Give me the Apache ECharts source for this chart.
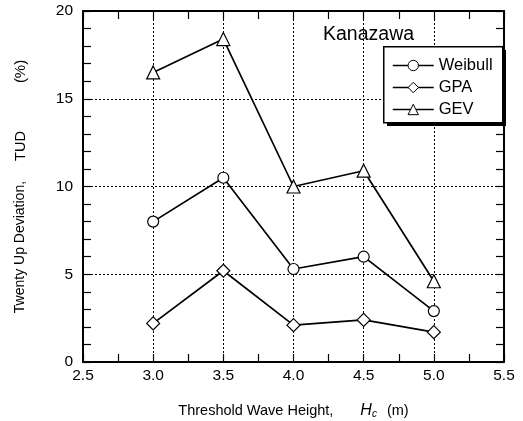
<!DOCTYPE html>
<html><head><meta charset="utf-8">
<script src="https://cdn.jsdelivr.net/npm/echarts@6/dist/echarts.min.js"></script>
<style>html,body{margin:0;padding:0;background:#fff}#c{width:523px;height:421px}</style>
</head><body><div id="c"></div>
<script>
const xValues = [3.0, 3.5, 4.0, 4.5, 5.0];
const weibull = [8.0, 10.5, 5.3, 6.0, 2.9];
const gpa = [2.2, 5.2, 2.1, 2.4, 1.7];
const gev = [16.5, 18.4, 10.0, 10.9, 4.6];
const seriesNames = ['Weibull', 'GPA', 'GEV'];
const stationName = 'Kanazawa';

const font = '"Liberation Sans", Arial, sans-serif';
const chart = echarts.init(document.getElementById('c'), null, {renderer: 'canvas'});
const pair = arr => xValues.map((x, i) => [x, arr[i]]);
const tickStyle = {show: true, inside: true, length: 8, lineStyle: {color: '#000', width: 1.2}};
const minorStyle = n => ({show: true, splitNumber: n, length: 8, lineStyle: {color: '#000', width: 1.2}});
const grid = {type: [2, 2], color: '#000', width: 1};
const lineSeries = (name, data, symbol, size) => ({
  name, type: 'line', data: pair(data), symbol, symbolSize: size,
  lineStyle: {color: '#000', width: 1.7},
  itemStyle: {color: '#fff', borderColor: '#000', borderWidth: 1.2},
  showAllSymbol: true, z: 5
});
chart.setOption({
  animation: false,
  textStyle: {fontFamily: font},
  grid: {left: 83, right: 19, top: 11, bottom: 59, outerBoundsMode: 'none', containLabel: false},
  title: {text: stationName, left: 318, top: 20, textStyle: {fontFamily: font, fontSize: 19.5, fontWeight: 'normal', color: '#000'}},
  graphic: [{
    type: 'rect', left: 387, top: 50, z: 10,
    shape: {width: 119, height: 76},
    style: {fill: '#000', stroke: null}
  }, {
    type: 'rect', left: 383, top: 46, z: 11,
    shape: {width: 119, height: 76},
    style: {fill: '#fff', stroke: '#000', lineWidth: 1.5}
  }],
  legend: {
    orient: 'vertical', left: 383, top: 46, z: 20,
    data: seriesNames,
    padding: [11, 6, 11, 9], itemGap: 5, itemWidth: 41, itemHeight: 13,
    itemStyle: {borderWidth: 1},
    lineStyle: {width: 1.5},
    textStyle: {fontFamily: font, fontSize: 16.5, color: '#000'}
  },
  xAxis: [{
    type: 'value', min: 2.5, max: 5.5, interval: 0.5,
    axisLine: {show: true, onZero: false, lineStyle: {color: '#000', width: 2}},
    axisTick: tickStyle, minorTick: minorStyle(2),
    splitLine: {show: true, lineStyle: grid},
    axisLabel: {color: '#000', fontSize: 15.5, fontFamily: font, margin: 6, formatter: v => v.toFixed(1)},
    name: '{a|Threshold Wave Height,}{h|H}{c|c}{m|(m)}',
    nameLocation: 'middle', nameGap: 40,
    nameTextStyle: {rich: {
      a: {fontSize: 14.5, fontFamily: font, color: '#000'},
      h: {fontSize: 16, fontFamily: font, fontStyle: 'italic', color: '#000', padding: [0, 0, 0, 27]},
      c: {fontSize: 10, fontFamily: font, fontStyle: 'italic', color: '#000', verticalAlign: 'bottom', padding: [7, 0, 0, 0]},
      m: {fontSize: 14.5, fontFamily: font, color: '#000', padding: [0, 0, 0, 10]}
    }}
  }, {
    type: 'value', min: 2.5, max: 5.5, interval: 0.5, position: 'top',
    axisLine: {show: true, onZero: false, lineStyle: {color: '#000', width: 2}},
    axisTick: tickStyle, minorTick: minorStyle(2),
    splitLine: {show: false}, axisLabel: {show: false}
  }],
  yAxis: [{
    type: 'value', min: 0, max: 20, interval: 5,
    axisLine: {show: true, onZero: false, lineStyle: {color: '#000', width: 2}},
    axisTick: tickStyle, minorTick: minorStyle(5),
    splitLine: {show: true, lineStyle: grid},
    axisLabel: {color: '#000', fontSize: 15.5, fontFamily: font, margin: 10},
    name: '{a|Twenty Up Deviation,}{b|TUD}{c|(%)}',
    nameLocation: 'middle', nameGap: 55,
    nameTextStyle: {rich: {
      a: {fontSize: 14, fontFamily: font, color: '#000'},
      b: {fontSize: 14.5, fontFamily: font, color: '#000', padding: [0, 0, 0, 20]},
      c: {fontSize: 15, fontFamily: font, color: '#000', padding: [0, 0, 0, 48]}
    }}
  }, {
    type: 'value', min: 0, max: 20, interval: 5, position: 'right',
    axisLine: {show: true, onZero: false, lineStyle: {color: '#000', width: 2}},
    axisTick: tickStyle, minorTick: minorStyle(5),
    splitLine: {show: false}, axisLabel: {show: false}
  }],
  series: [
    lineSeries(seriesNames[0], weibull, 'circle', 11),
    lineSeries(seriesNames[1], gpa, 'diamond', 13),
    lineSeries(seriesNames[2], gev, 'triangle', 13)
  ]
});
</script></body></html>
